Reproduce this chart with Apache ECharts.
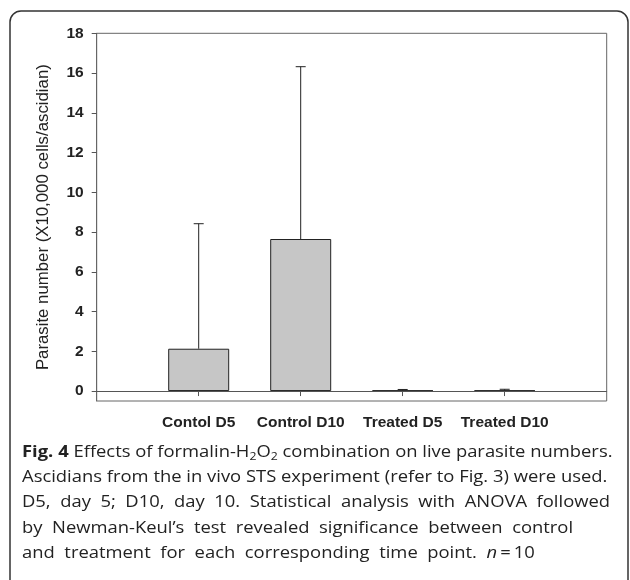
<!DOCTYPE html>
<html>
<head>
<meta charset="utf-8">
<script src="https://cdn.jsdelivr.net/npm/echarts@6/dist/echarts.min.js"></script>
<style>
html,body{margin:0;padding:0;background:#fff;}
#chart{width:630px;height:580px;}
</style>
</head>
<body>
<div id="chart"></div>
<script>
var categories = ['Contol D5', 'Control D10', 'Treated D5', 'Treated D10'];
var means = [2.13, 7.65, 0.03, 0.03];
var errors = [6.29, 8.67, 0.05, 0.06];
var yTicks = [0, 2, 4, 6, 8, 10, 12, 14, 16, 18];
var captionLines = [
  '{b|Fig. 4} Effects of formalin-H{s|2}O{s|2} combination on live parasite numbers.',
  'Ascidians from the in vivo STS experiment (refer to Fig. 3) were used.',
  'D5,  day  5;  D10,  day  10.  Statistical  analysis  with  ANOVA  followed',
  'by  Newman-Keul\u2019s  test  revealed  significance  between  control',
  'and  treatment  for  each  corresponding  time  point.  {i|n}\u2009=\u200910'
];

var xPos = categories.map(function (c, i) { return i + 1; });
var barData = means.map(function (m, i) { return [xPos[i], m]; });
var errData = means.map(function (m, i) { return [xPos[i], m, m + errors[i]]; });

var chart = echarts.init(document.getElementById('chart'), null, {renderer: 'canvas'});
var capFont = 'Open Sans';
var capSize = 16.5;
var capScale = 1.115;
var captionGraphics = captionLines.map(function (t, i) {
  return {
    type: 'text',
    x: 22,
    y: 443 + i * 25.5,
    scaleX: capScale,
    silent: true,
    style: {
      text: t,
      x: 0, y: 0,
      verticalAlign: 'top',
      fontFamily: capFont,
      fontSize: capSize,
      fill: '#222',
      rich: {
        b: {fontFamily: capFont, fontSize: capSize, fontWeight: 'bold', fill: '#222'},
        s: {fontFamily: capFont, fontSize: 11, fill: '#222', padding: [8, 0, 0, 0]},
        i: {fontFamily: capFont, fontSize: capSize, fontStyle: 'italic', fill: '#222'}
      }
    }
  };
});

var option = {
  animation: false,
  backgroundColor: '#fff',
  grid: {left: 96.7, right: 23.3, top: 33.3, bottom: 179, show: true, borderColor: '#666', borderWidth: 1, backgroundColor: 'transparent'},
  xAxis: {
    type: 'value', min: 0, max: 5,
    axisLine: {show: true, lineStyle: {color: '#666', width: 1}},
    axisTick: {show: true, length: 5, inside: false, customValues: xPos, lineStyle: {color: '#555'}},
    axisLabel: {
      customValues: xPos, margin: 14,
      fontFamily: 'Liberation Sans, Arial', fontWeight: 'bold', fontSize: 15.5, color: '#222',
      formatter: function (v) { return categories[Math.round(v) - 1] || ''; }
    },
    splitLine: {show: false}
  },
  yAxis: {
    type: 'value', min: -0.5, max: 18,
    name: 'Parasite number (X10,000 cells/ascidian)',
    nameLocation: 'middle', nameRotate: 90, nameGap: 45,
    nameTextStyle: {fontFamily: 'Liberation Sans, Arial', fontSize: 16.8, color: '#222'},
    axisLine: {show: true, lineStyle: {color: '#666', width: 1}},
    axisTick: {show: true, length: 5, inside: false, customValues: yTicks, lineStyle: {color: '#555'}},
    axisLabel: {
      customValues: yTicks, margin: 13,
      fontFamily: 'Liberation Sans, Arial', fontWeight: 'bold', fontSize: 15.5, color: '#222'
    },
    splitLine: {show: false}
  },
  series: [
    {
      type: 'bar',
      data: barData,
      barWidth: 61,
      itemStyle: {color: '#c6c6c6', borderColor: '#222', borderWidth: 1},
      markLine: {
        silent: true, symbol: 'none', label: {show: false},
        lineStyle: {color: '#555', width: 1, type: 'solid'},
        data: [{yAxis: 0}]
      },
      z: 2
    },
    {
      type: 'custom',
      data: errData,
      z: 3,
      renderItem: function (params, api) {
        var x = api.value(0);
        var top = api.coord([x, api.value(2)]);
        var bot = api.coord([x, api.value(1)]);
        var hw = 5;
        return {
          type: 'group',
          children: [
            {type: 'line', shape: {x1: top[0], y1: top[1], x2: bot[0], y2: bot[1]}, style: {stroke: '#222', lineWidth: 1}},
            {type: 'line', shape: {x1: top[0] - hw, y1: top[1], x2: top[0] + hw, y2: top[1]}, style: {stroke: '#222', lineWidth: 1}}
          ]
        };
      }
    }
  ],
  graphic: [
    {type: 'rect', shape: {x: 10, y: 11, width: 618, height: 600, r: 11}, style: {fill: 'none', stroke: '#333', lineWidth: 1.5}, silent: true}
  ].concat(captionGraphics)
};
chart.setOption(option);
</script>
</body>
</html>
